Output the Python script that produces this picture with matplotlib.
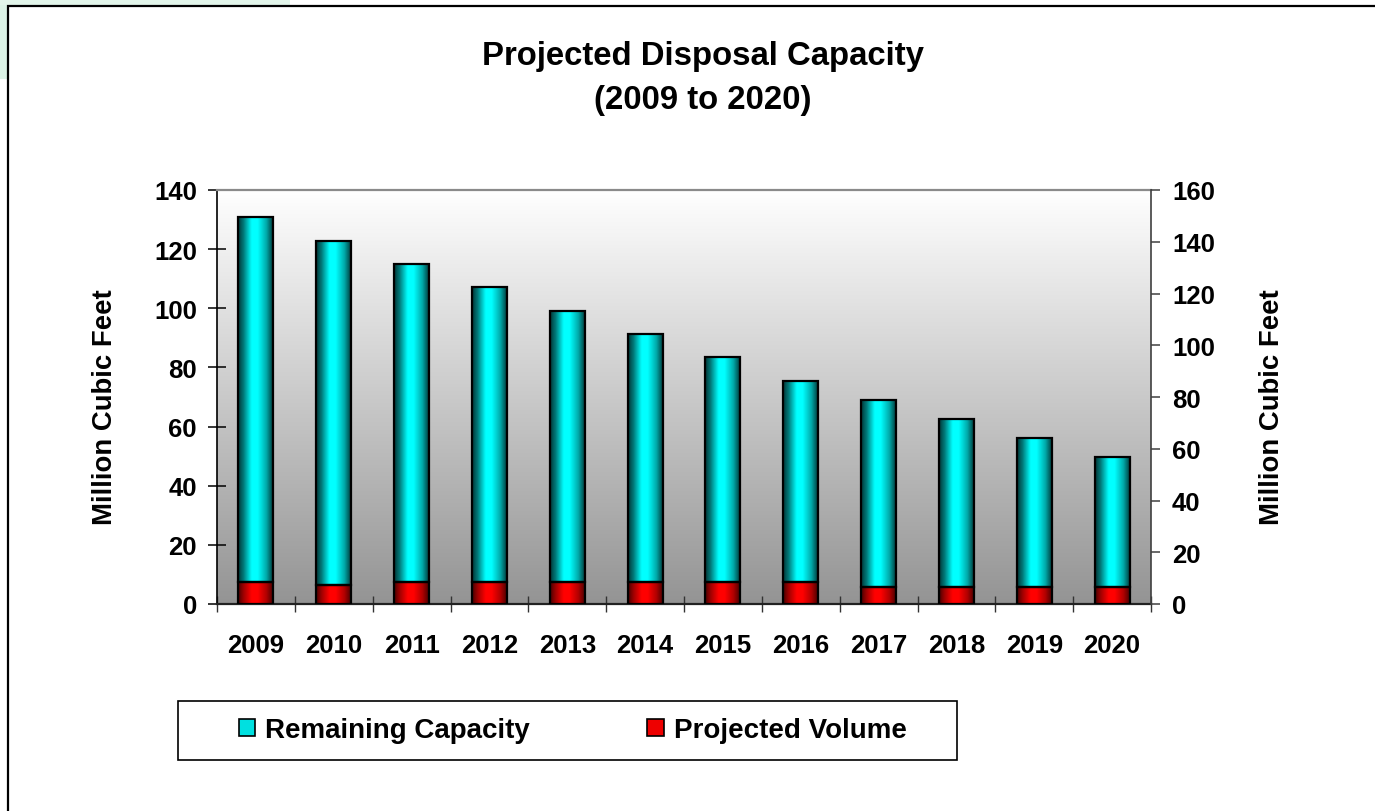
import numpy as np
import matplotlib
matplotlib.use("Agg")
import matplotlib.pyplot as plt
from matplotlib.colors import LinearSegmentedColormap
from matplotlib.patches import Patch, Rectangle

plt.rcParams["font.family"] = ["Liberation Sans", "DejaVu Sans"]
plt.rcParams["font.weight"] = "bold"

years = ["2009", "2010", "2011", "2012", "2013", "2014",
         "2015", "2016", "2017", "2018", "2019", "2020"]
projected_volume = [7.3, 6.5, 7.3, 7.3, 7.3, 7.3, 7.3, 7.3, 5.7, 5.7, 5.7, 5.7]
remaining_capacity = [123.6, 116.4, 107.6, 99.8, 91.8, 84.0,
                      76.2, 68.2, 63.3, 56.8, 50.3, 43.9]

W, H = 1375, 812
fig = plt.figure(figsize=(W / 100, H / 100), dpi=100)

# slide background peeking out top-left + chart border
fig.patches.append(Rectangle((0, 1 - 80 / H), 8 / W, 80 / H, transform=fig.transFigure,
                             facecolor="#dcf3e6", edgecolor="none", zorder=0))
fig.patches.append(Rectangle((0, 1 - 6 / H), 290 / W, 6 / H, transform=fig.transFigure,
                             facecolor="#e2f5ea", edgecolor="none", zorder=0))
fig.patches.append(Rectangle((8 / W, -0.1), 1.2, 1.1 - 6.5 / H, transform=fig.transFigure,
                             facecolor="none", edgecolor="black", linewidth=1.6, zorder=1))

ax = fig.add_axes([217 / W, 1 - 605 / H, 934 / W, 414 / H])
x = np.arange(len(years))
bw = 0.45

cyan_cmap = LinearSegmentedColormap.from_list(
    "cyl_cyan", [(0, "#003636"), (0.15, "#007a7a"), (0.38, "#00ffff"),
                 (0.55, "#00ffff"), (0.8, "#00a8a8"), (1, "#002e2e")])
red_cmap = LinearSegmentedColormap.from_list(
    "cyl_red", [(0, "#4a0000"), (0.15, "#a00000"), (0.38, "#ff0000"),
                (0.55, "#ff0000"), (0.8, "#b00000"), (1, "#400000")])

red_bars = ax.bar(x, projected_volume, bw, color="none", edgecolor="black",
                  linewidth=1.6, zorder=4)
cyan_bars = ax.bar(x, remaining_capacity, bw, bottom=projected_volume, color="none",
                   edgecolor="black", linewidth=1.6, zorder=4)

grad = np.linspace(0, 1, 64).reshape(1, -1)
for bars, cmap in [(red_bars, red_cmap), (cyan_bars, cyan_cmap)]:
    for p in bars:
        x0, y0 = p.get_x(), p.get_y()
        im = ax.imshow(grad, extent=[x0, x0 + p.get_width(), y0, y0 + p.get_height()],
                       aspect="auto", cmap=cmap, zorder=3, interpolation="bilinear")
        im.set_clip_path(p)

# plot area gradient: white at top to grey at bottom
bg = np.linspace(0, 1, 256).reshape(-1, 1)
bg_cmap = LinearSegmentedColormap.from_list("bg", ["#ffffff", "#949494"])
ax.imshow(bg, extent=[-0.5, len(years) - 0.5, 0, 140], aspect="auto", cmap=bg_cmap,
          zorder=0, origin="upper")
ax.set_xlim(-0.5, len(years) - 0.5)
ax.set_ylim(0, 140)

ax.set_yticks(np.arange(0, 141, 20))
ax.tick_params(axis="y", direction="inout", length=13, width=1.1, pad=8,
               labelsize=18.5, colors="black")
ax.set_xticks(x)
ax.set_xticklabels(years)
ax.set_xticks(np.arange(-0.5, len(years), 1), minor=True)
ax.tick_params(axis="x", which="major", length=0, pad=21, labelsize=18.5)
ax.tick_params(axis="x", which="minor", direction="inout", length=12, width=1,
               color="#333333")

ax.spines["left"].set_color("black")
ax.spines["left"].set_linewidth(1.2)
ax.spines["bottom"].set_color("#222222")
ax.spines["bottom"].set_linewidth(1.6)
ax.spines["top"].set_color("#8a8a8a")
ax.spines["top"].set_linewidth(1.6)
ax.spines["right"].set_visible(False)

ax2 = ax.twinx()
ax2.set_ylim(0, 160)
ax2.set_yticks(np.arange(0, 161, 20))
ax2.tick_params(axis="y", direction="out", length=6.5, width=1.1, pad=8.6,
                labelsize=18.5, color="#404040")
ax2.spines["right"].set_color("#404040")
ax2.spines["right"].set_linewidth(1.2)
for s in ["left", "top", "bottom"]:
    ax2.spines[s].set_visible(False)

for lab in ax.get_xticklabels() + ax.get_yticklabels() + ax2.get_yticklabels():
    lab.set_fontweight("bold")

fig.text(105 / W, 1 - 407 / H, "Million Cubic Feet", rotation=90, ha="center",
         va="center", fontsize=19.8, fontweight="bold")
fig.text(1272 / W, 1 - 407 / H, "Million Cubic Feet", rotation=90, ha="center",
         va="center", fontsize=19.8, fontweight="bold")

fig.text(703 / W, 1 - 57 / H, "Projected Disposal Capacity", ha="center", va="center",
         fontsize=23.7, fontweight="bold")
fig.text(703 / W, 1 - 100 / H, "(2009 to 2020)", ha="center", va="center",
         fontsize=23.7, fontweight="bold")

# legend: box drawn separately to match the wide frame of the original
fig.patches.append(Rectangle((178 / W, 1 - 761 / H), 779 / W, 59 / H,
                             transform=fig.transFigure, facecolor="white",
                             edgecolor="black", linewidth=1.2, zorder=2))
handles = [Patch(facecolor="#00e0e0", edgecolor="black", linewidth=1.2),
           Patch(facecolor="#ee0000", edgecolor="black", linewidth=1.2)]
leg = fig.legend(handles, ["Remaining Capacity", "Projected Volume"], loc="center",
                 ncol=2, bbox_to_anchor=(183 / W, 1 - 761 / H, 779 / W, 59 / H),
                 frameon=False, handlelength=0.58, handleheight=0.58,
                 handletextpad=0.36, columnspacing=4.25, borderpad=0.6,
                 prop={"weight": "bold", "size": 20})
leg.set_zorder(3)

fig.savefig("out.png", dpi=100)
